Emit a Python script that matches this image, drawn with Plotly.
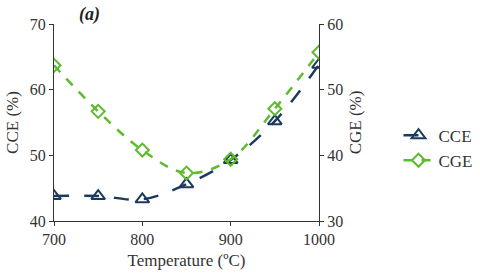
import plotly.graph_objects as go

temperature = [700, 750, 800, 850, 900, 950, 1000]
cce = [43.8, 43.8, 43.3, 45.6, 49.3, 55.2, 63.8]
cge = [53.7, 46.7, 40.8, 37.3, 39.4, 47.1, 55.7]

navy = "#1C3A5E"
green = "#5DBB2E"
font_family = "Liberation Serif"

fig = go.Figure()
fig.add_trace(go.Scatter(
    x=temperature, y=cce, name="CCE", mode="lines+markers",
    line=dict(color=navy, width=2.5, dash="longdash", shape="spline"),
    marker=dict(symbol="triangle-up-open", size=12, color=navy, line=dict(width=2)),
))
fig.add_trace(go.Scatter(
    x=temperature, y=cge, name="CGE", mode="lines+markers", yaxis="y2",
    line=dict(color=green, width=2.5, dash="dash", shape="spline"),
    marker=dict(symbol="diamond-open", size=10, color=green, line=dict(width=2)),
))

axis_common = dict(
    showline=True, linecolor="#333333", linewidth=1.2, showgrid=False, zeroline=False,
    ticks="outside", ticklen=4, tickcolor="#333333", automargin=False,
    tickfont=dict(family=font_family, size=16, color="#333333"),
)

fig.update_layout(
    width=490, height=275,
    margin=dict(l=54, r=168, t=24, b=54),
    paper_bgcolor="white", plot_bgcolor="white",
    font=dict(family=font_family, color="#333333"),
    xaxis=dict(range=[700, 1000], dtick=100, tick0=700,
               title=dict(text="Temperature (ºC)", font=dict(family=font_family, size=17), standoff=6),
               **axis_common),
    yaxis=dict(range=[40, 70], dtick=10, tick0=40,
               title=dict(text="CCE (%)", font=dict(family=font_family, size=17), standoff=6),
               **axis_common),
    yaxis2=dict(range=[30, 60], dtick=10, tick0=30, overlaying="y", side="right",
                title=dict(text="CGE (%)", font=dict(family=font_family, size=17), standoff=6),
                **axis_common),
    legend=dict(x=1.30, y=0.37, xanchor="left", yanchor="middle",
                font=dict(family=font_family, size=17, color="#333333"),
                bgcolor="rgba(0,0,0,0)", tracegroupgap=4),
    showlegend=True,
    annotations=[dict(text="<b><i>(a)</i></b>", x=0.134, y=1.0, xref="paper", yref="paper",
                      xanchor="center", yanchor="middle", yshift=10, showarrow=False,
                      font=dict(family=font_family, size=18, color="#222222"))],
)

fig.write_html("out.html", config={"displayModeBar": False},
               post_script="document.body.style.margin='0';")
